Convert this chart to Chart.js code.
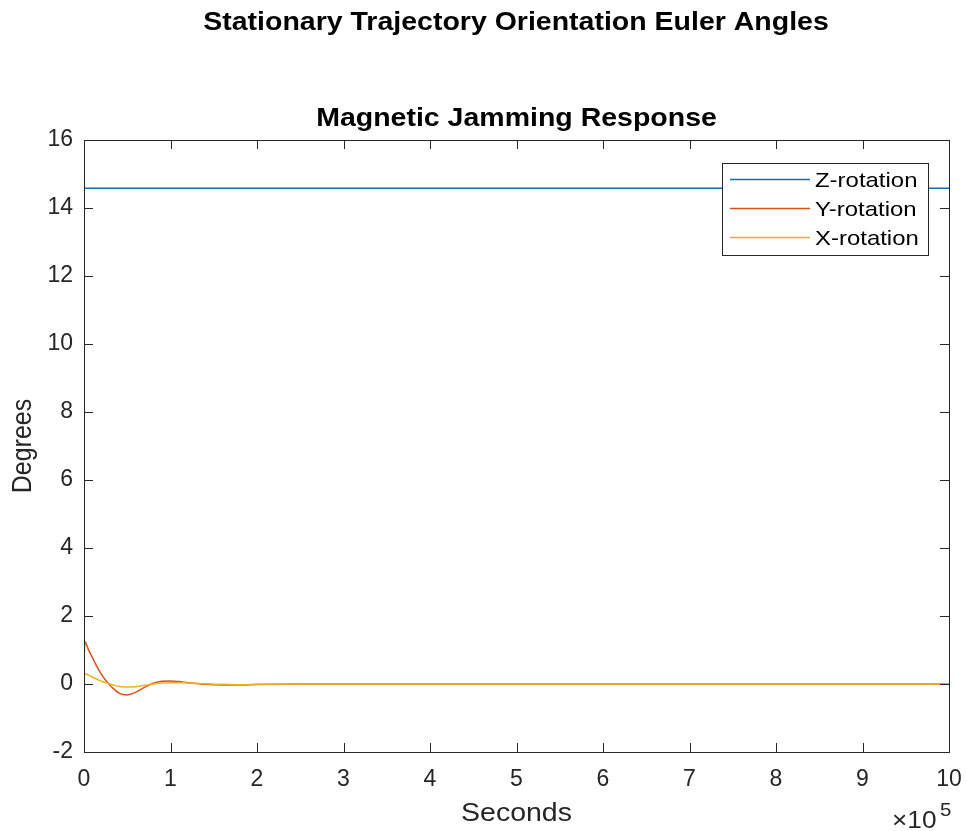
<!DOCTYPE html>
<html>
<head>
<meta charset="utf-8">
<script src="https://cdn.jsdelivr.net/npm/chart.js@4/dist/chart.umd.min.js"></script>
<style>
  html, body { margin: 0; padding: 0; background: #fff; }
  canvas { display: block; }
</style>
</head>
<body>
<canvas id="euler" width="967" height="831"></canvas>
<script>
  // time in seconds
  var times = [0, 1000, 5000, 10000, 15000, 20000, 25000, 30000, 35000, 40000, 45000, 50000,
    60000, 70000, 80000, 90000, 100000, 110000, 120000, 140000, 160000, 180000, 200000,
    250000, 300000, 400000, 500000, 600000, 700000, 800000, 900000, 1000000];
  var zRot = [14.58, 14.58, 14.58, 14.58, 14.58, 14.58, 14.58, 14.58, 14.58, 14.58, 14.58, 14.58,
    14.58, 14.58, 14.58, 14.58, 14.58, 14.58, 14.58, 14.58, 14.58, 14.58, 14.58,
    14.58, 14.58, 14.58, 14.58, 14.58, 14.58, 14.58, 14.58, 14.58];
  var yRot = [0.65, 1.24, 1.02, 0.76, 0.51, 0.29, 0.11, -0.04, -0.16, -0.26, -0.31, -0.32,
    -0.24, -0.1, 0.02, 0.08, 0.09, 0.07, 0.04, -0.01, -0.03, -0.03, -0.015,
    0, 0, 0, 0, 0, 0, 0, 0, 0];
  var xRot = [0.32, 0.31, 0.26, 0.2, 0.14, 0.08, 0.04, 0.0, -0.04, -0.07, -0.09, -0.09,
    -0.08, -0.04, 0.0, 0.03, 0.04, 0.04, 0.03, 0.01, -0.01, -0.02, -0.01,
    0, 0, 0, 0, 0, 0, 0, 0, 0];
  var seriesLabels = ['Z-rotation', 'Y-rotation', 'X-rotation'];
  var yTicks = [-2, 0, 2, 4, 6, 8, 10, 12, 14, 16];
  var xTicks = [0, 1, 2, 3, 4, 5, 6, 7, 8, 9, 10];

  var FONT = '"Liberation Sans", Arial, sans-serif';
  var INK = '#262626';
  var SX = 1.14; // the text in the picture is a bit wide

  function pts(vals) {
    var out = [];
    for (var i = 0; i < times.length; i++) {
      out.push({ x: times[i], y: vals[i] });
    }
    return out;
  }

  function wideText(ctx, txt, x, y, font, align) {
    ctx.save();
    ctx.font = font;
    ctx.textAlign = align;
    ctx.textBaseline = 'alphabetic';
    ctx.translate(x, y);
    ctx.scale(SX, 1);
    ctx.fillText(txt, 0, 0);
    ctx.restore();
  }

  // box, inward ticks, titles and legend, matlab style
  var matlabFrame = {
    id: 'matlabFrame',
    afterDraw: function(chart) {
      var ctx = chart.ctx;
      var a = chart.chartArea;
      var xs = chart.scales.x;
      var ys = chart.scales.y;
      ctx.save();
      ctx.strokeStyle = INK;
      ctx.lineWidth = 1;
      ctx.strokeRect(Math.round(a.left) + 0.5, Math.round(a.top) + 0.5,
        Math.round(a.right - a.left), Math.round(a.bottom - a.top));

      ctx.beginPath();
      xTicks.forEach(function(t) {
        var px = Math.round(xs.getPixelForValue(t * 1e5)) + 0.5;
        ctx.moveTo(px, a.bottom); ctx.lineTo(px, a.bottom - 9);
        ctx.moveTo(px, a.top); ctx.lineTo(px, a.top + 9);
      });
      yTicks.forEach(function(t) {
        var py = Math.round(ys.getPixelForValue(t)) + 0.5;
        ctx.moveTo(a.left, py); ctx.lineTo(a.left + 9, py);
        ctx.moveTo(a.right, py); ctx.lineTo(a.right - 9, py);
      });
      ctx.stroke();

      // titles
      ctx.fillStyle = '#000';
      wideText(ctx, 'Stationary Trajectory Orientation Euler Angles', 516, 30, 'bold 25px ' + FONT, 'center');
      wideText(ctx, 'Magnetic Jamming Response', (a.left + a.right) / 2, 126, 'bold 25px ' + FONT, 'center');

      ctx.fillStyle = INK;
      wideText(ctx, 'Seconds', (a.left + a.right) / 2, 821, '25px ' + FONT, 'center');
      ctx.save();
      ctx.translate(31, (a.top + a.bottom) / 2);
      ctx.rotate(-Math.PI / 2);
      ctx.scale(1, SX);
      ctx.font = '25px ' + FONT;
      ctx.textAlign = 'center';
      ctx.textBaseline = 'alphabetic';
      ctx.fillText('Degrees', 0, 0);
      ctx.restore();

      wideText(ctx, '\u00d710', 892, 828, '23px ' + FONT, 'left');
      wideText(ctx, '5', 940, 816, '18px ' + FONT, 'left');

      // legend
      var lx = 722, ly = 163, lw = 206, lh = 92;
      ctx.fillStyle = '#fff';
      ctx.fillRect(lx, ly, lw, lh);
      ctx.strokeStyle = INK;
      ctx.lineWidth = 1;
      ctx.strokeRect(lx + 0.5, ly + 0.5, lw, lh);
      chart.data.datasets.forEach(function(ds, i) {
        var yy = ly + 16.5 + i * 29;
        ctx.strokeStyle = ds.borderColor;
        ctx.lineWidth = 1.5;
        ctx.beginPath();
        ctx.moveTo(lx + 8, yy); ctx.lineTo(lx + 88, yy);
        ctx.stroke();
        ctx.fillStyle = '#000';
        wideText(ctx, ds.label, lx + 93, yy + 7.5, '21px ' + FONT, 'left');
      });
      ctx.restore();
    }
  };

  new Chart(document.getElementById('euler'), {
    type: 'line',
    data: {
      datasets: [
        { label: seriesLabels[0], data: pts(zRot), borderColor: '#0072BD', order: 2 },
        { label: seriesLabels[1], data: pts(yRot), borderColor: '#D95319', order: 1 },
        { label: seriesLabels[2], data: pts(xRot), borderColor: '#EDB120', order: 0 }
      ]
    },
    options: {
      responsive: false,
      animation: false,
      layout: { padding: { left: 0, top: 140, right: 18, bottom: 0 } },
      elements: {
        point: { radius: 0 },
        line: { borderWidth: 1.5, cubicInterpolationMode: 'monotone' }
      },
      plugins: {
        legend: { display: false },
        title: { display: false },
        tooltip: { enabled: false }
      },
      scales: {
        x: {
          type: 'linear',
          min: 0,
          max: 1000000,
          afterFit: function(s) {
            s.height = 79;
            s.paddingLeft = 0;
            s.paddingRight = 0;
          },
          grid: { display: false, drawTicks: false },
          border: { display: false },
          ticks: {
            stepSize: 100000,
            padding: 14,
            color: INK,
            font: { family: FONT, size: 23 },
            maxRotation: 0,
            callback: function(v) { return v / 1e5; }
          }
        },
        y: {
          min: -2,
          max: 16,
          afterFit: function(s) {
            s.width = 84;
            s.paddingTop = 0;
            s.paddingBottom = 0;
          },
          grid: { display: false, drawTicks: false },
          border: { display: false },
          ticks: {
            stepSize: 2,
            padding: 11,
            color: INK,
            font: { family: FONT, size: 23 }
          }
        }
      }
    },
    plugins: [matlabFrame]
  });
</script>
</body>
</html>
